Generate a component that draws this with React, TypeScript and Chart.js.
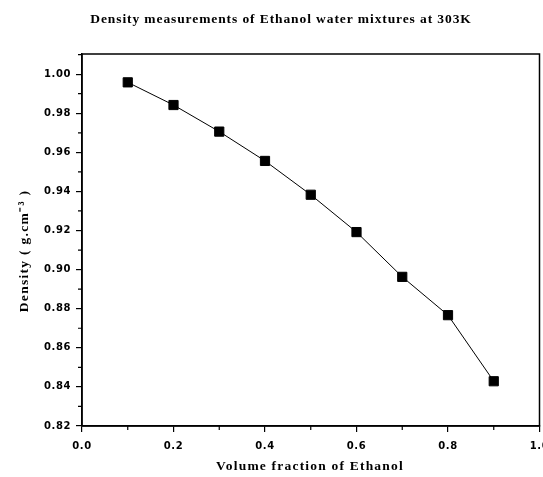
import React, { useEffect, useRef } from "react";
import { Chart, registerables } from "chart.js";

Chart.register(...registerables);

const chartTitle = "Density measurements of Ethanol water mixtures at 303K";
const xTitle = "Volume fraction of Ethanol";
const yTitle = "Density ( g.cm\u207B\u00B3 )";
const volumeFraction = [0.1, 0.2, 0.3, 0.4, 0.5, 0.6, 0.7, 0.8, 0.9];
const density = [0.9958, 0.9842, 0.9706, 0.9556, 0.9383, 0.9192, 0.8963, 0.8767, 0.8429];
const xMinorTicks = [0.1, 0.3, 0.5, 0.7, 0.9];
const yMinorTicks = [0.83, 0.85, 0.87, 0.89, 0.91, 0.93, 0.95, 0.97, 0.99, 1.01];

const TITLE_FONT = "bold 13.5px 'Liberation Serif'";

const framePlugin = {
  id: "frame",
  beforeDraw(chart: any) {
    (chart.ctx as any).letterSpacing = "0.6px";
  },
  afterDraw(chart: any) {
    const { ctx, chartArea: a, scales } = chart;
    (ctx as any).letterSpacing = "0px";
    ctx.save();
    ctx.strokeStyle = "#000";
    ctx.lineWidth = 1.5;
    ctx.strokeRect(a.left, a.top, a.right - a.left, a.bottom - a.top);
    ctx.lineWidth = 1.2;
    ctx.beginPath();
    for (const v of xMinorTicks) {
      const px = scales.x.getPixelForValue(v);
      ctx.moveTo(px, a.bottom);
      ctx.lineTo(px, a.bottom + 4);
    }
    for (const v of yMinorTicks) {
      if (v > scales.y.max) continue;
      const py = scales.y.getPixelForValue(v);
      ctx.moveTo(a.left, py);
      ctx.lineTo(a.left - 4, py);
    }
    ctx.stroke();
    ctx.fillStyle = "#000";
    ctx.font = TITLE_FONT;
    ctx.textAlign = "center";
    ctx.textBaseline = "middle";
    (ctx as any).letterSpacing = "0.9px";
    ctx.fillText(chartTitle, 281, 20);
    (ctx as any).letterSpacing = "1.2px";
    ctx.fillText(xTitle, 310, 467);
    ctx.translate(25, 251);
    ctx.rotate(-Math.PI / 2);
    (ctx as any).letterSpacing = "1.3px";
    ctx.fillText(yTitle, 0, 0);
    ctx.restore();
    (ctx as any).letterSpacing = "0px";
  },
};

export default function App() {
  const ref = useRef<HTMLCanvasElement>(null);
  useEffect(() => {
    const chart = new Chart(ref.current!, {
      type: "line",
      data: {
        datasets: [
          {
            data: volumeFraction.map((x, i) => ({ x, y: density[i] })),
            borderColor: "#000",
            backgroundColor: "#000",
            borderWidth: 1,
            pointStyle: "rect",
            pointRadius: 6.5,
            tension: 0,
          },
        ],
      },
      options: {
        animation: false,
        responsive: false,
        layout: { padding: { top: 54, right: 0, left: 0, bottom: 0 } },
        plugins: { legend: { display: false }, tooltip: { enabled: false } },
        scales: {
          x: {
            type: "linear",
            min: 0,
            max: 1,
            afterFit: (s: any) => { s.height = 51; s.paddingRight = 0; s.paddingLeft = 0; },
            grid: { drawOnChartArea: false, tickLength: 6, color: "#000", lineWidth: 1.2 },
            border: { color: "#000", width: 1.5 },
            ticks: {
              stepSize: 0.2,
              includeBounds: false,
              color: "#000",
              font: { family: "'DejaVu Sans'", size: 10, weight: "bold" },
              padding: 8,
              maxRotation: 0,
              callback: (v: any) => Number(v).toFixed(1),
            },
          },
          y: {
            type: "linear",
            min: 0.82,
            max: 1.0103,
            afterFit: (s: any) => { s.width = 82; s.paddingTop = 0; s.paddingBottom = 0; },
            grid: { drawOnChartArea: false, tickLength: 6, color: "#000", lineWidth: 1.2 },
            border: { color: "#000", width: 1.5 },
            ticks: {
              stepSize: 0.02,
              includeBounds: false,
              color: "#000",
              font: { family: "'DejaVu Sans'", size: 10, weight: "bold" },
              padding: 5,
              callback: (v: any) => Number(v).toFixed(2),
            },
          },
        },
      },
      plugins: [framePlugin],
    } as any);
    return () => chart.destroy();
  }, []);
  return (
    <div style={{ position: "absolute", left: 0, top: 0, width: 543, height: 477, overflow: "hidden", background: "#fff" }}>
      <canvas ref={ref} width={547} height={477} style={{ display: "block" }} />
    </div>
  );
}
